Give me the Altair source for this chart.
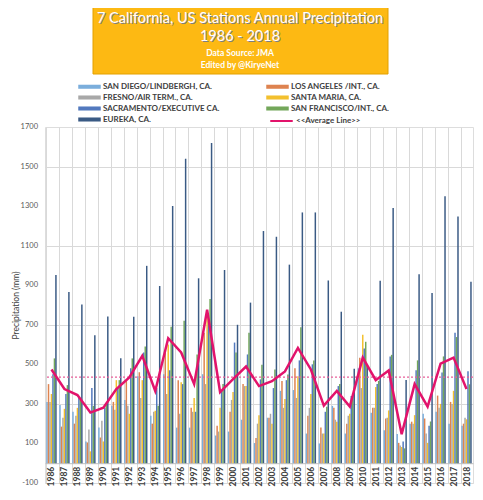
import altair as alt
import pandas as pd

YEARS = [str(y) for y in range(1986, 2019)]

STATIONS = ["SAN DIEGO/LINDBERGH, CA.", "LOS ANGELES /INT., CA.", "FRESNO/AIR TERM., CA.",
            "SANTA MARIA, CA.", "SACRAMENTO/EXECUTIVE CA.", "SAN FRANCISCO/INT., CA.", "EUREKA, CA."]
COLORS = ["#7BAEDC", "#DE8350", "#A8A8A8", "#F3C02E", "#5279BE", "#73A75A", "#3A5A84"]

SAN_DIEGO = [310, 295, 260, 110, 180, 290, 320, 440, 240, 450, 180, 180, 450, 140, 160, 220, 102,
             230, 366, 370, 150, 100, 290, 150, 480, 255, 167, 148, 200, 250, 260, 200, 190]
LOS_ANGELES = [400, 185, 200, 105, 130, 310, 420, 460, 200, 560, 420, 280, 660, 190, 260, 400, 127,
               230, 416, 480, 240, 180, 280, 200, 533, 280, 226, 103, 210, 226, 342, 310, 200]
FRESNO = [310, 230, 240, 170, 215, 270, 290, 330, 260, 350, 250, 260, 400, 160, 320, 390, 200,
          250, 280, 330, 280, 150, 220, 240, 380, 280, 230, 90, 200, 150, 280, 300, 230]
SANTA_MARIA = [350, 275, 280, 60, 110, 420, 250, 420, 265, 600, 410, 330, 760, 280, 360, 390, 243,
               200, 325, 440, 350, 150, 210, 250, 650, 385, 267, 82, 243, 103, 300, 366, 222]
SACRAMENTO = [450, 350, 330, 380, 280, 380, 480, 560, 380, 470, 400, 260, 720, 370, 610, 550, 424,
              380, 420, 520, 500, 260, 390, 340, 580, 400, 540, 110, 470, 190, 459, 660, 465]
SAN_FRANCISCO = [530, 395, 320, 290, 300, 420, 530, 590, 290, 690, 720, 550, 830, 400, 560, 660, 498,
                 474, 449, 688, 520, 286, 400, 340, 614, 416, 548, 75, 520, 211, 540, 638, 399]
EUREKA = [952, 866, 802, 647, 742, 531, 741, 998, 896, 1301, 1540, 935, 1619, 977, 700, 812, 1174,
          1145, 1004, 1268, 1268, 924, 766, 478, 500, 922, 1290, 421, 955, 861, 1350, 1247, 917]
AVERAGE = [474, 375, 345, 256, 281, 375, 434, 543, 365, 632, 560, 400, 776, 360, 425, 489, 390,
           415, 464, 583, 474, 291, 365, 286, 534, 420, 469, 147, 400, 286, 504, 534, 375]
OVERALL_AVERAGE = [435]
AVG_LABEL = "<<Average Line>>"

Y_LABELS = list(range(-100, 1701, 200))
Y_GRID = list(range(-100, 1701, 100))

TITLE_LINES = ["7 California, US Stations Annual Precipitation", "1986 - 2018",
               "Data Source: JMA", "Edited by @KiryeNet"]

FONT = "Lato"
GRID = "#D9D9D9"

series = [SAN_DIEGO, LOS_ANGELES, FRESNO, SANTA_MARIA, SACRAMENTO, SAN_FRANCISCO, EUREKA]
rows = []
for st, vals in zip(STATIONS, series):
    for yr, v in zip(YEARS, vals):
        rows.append({"year": yr, "station": st, "value": v})
bars_df = pd.DataFrame(rows)
avg_df = pd.DataFrame({"year": YEARS, "avg": AVERAGE, "series": [AVG_LABEL] * len(YEARS)})
overall_df = pd.DataFrame({"v": OVERALL_AVERAGE})
ylab_df = pd.DataFrame({"t": Y_LABELS, "lab": [str(v) for v in Y_LABELS]})
one = pd.DataFrame({"k": [0]})

y_scale = alt.Scale(domain=[-100, 1700], nice=False, zero=False)

x_enc = alt.X("year:N", sort=YEARS, title=None,
              scale=alt.Scale(paddingInner=0.2, paddingOuter=0.1),
              axis=alt.Axis(labelAngle=-90, labelFont=FONT, labelFontSize=8.5, labelFontWeight="bold",
                            labelColor="#404040", labelPadding=3, ticks=False, domain=True,
                            domainColor="#BFBFBF", grid=True, gridColor=GRID, bandPosition=0,
                            offset=-19.8, labelOverlap=False))
y_axis = alt.Axis(values=Y_GRID, labels=False, grid=True, gridColor=GRID, domain=False, ticks=False,
                  title="Precipitation (mm)", titleFont=FONT, titleFontSize=8.5,
                  titleFontWeight="normal", titleColor="#404040", titlePadding=25)

bars = alt.Chart(bars_df).mark_bar().encode(
    x=x_enc,
    xOffset=alt.XOffset("station:N", sort=STATIONS, scale=alt.Scale(domain=STATIONS, paddingInner=0)),
    y=alt.Y("value:Q", scale=y_scale, axis=y_axis),
    y2=alt.datum(0),
    color=alt.Color("station:N", scale=alt.Scale(domain=STATIONS, range=COLORS),
                    legend=alt.Legend(orient="none", legendX=40, legendY=-45, columns=2,
                                      direction="horizontal", title=None,
                                      symbolType="M-2.5,-0.45L2.5,-0.45L2.5,0.45L-2.5,0.45Z",
                                      symbolSize=81, symbolStrokeWidth=0, labelOffset=9,
                                      labelFont=FONT, labelFontSize=8, labelFontWeight="bold",
                                      labelColor="#404040", rowPadding=2, columnPadding=46,
                                      padding=0, labelLimit=300)),
)

ylabels = alt.Chart(ylab_df).mark_text(font=FONT, fontSize=7.5, color="#595959", align="right",
                                       baseline="middle").encode(
    x=alt.value(-7),
    y=alt.Y("t:Q", scale=y_scale),
    text=alt.Text("lab:N"),
)

overall = alt.Chart(overall_df).mark_rule(color="#E8609A", strokeWidth=1.3, strokeDash=[2, 2]).encode(
    y=alt.Y("v:Q", scale=y_scale)
)

line = alt.Chart(avg_df).mark_line(strokeWidth=2.5).encode(
    x=alt.X("year:N", sort=YEARS),
    y=alt.Y("avg:Q", scale=y_scale),
    stroke=alt.Stroke("series:N", scale=alt.Scale(domain=[AVG_LABEL], range=["#E2136B"]),
                      legend=alt.Legend(orient="none", legendX=231, legendY=-11.5, title=None,
                                        symbolType="M-2.5,0L2.5,0", symbolSize=81,
                                        symbolStrokeWidth=2, labelOffset=9, labelFont=FONT,
                                        labelFontSize=8, labelFontWeight="bold",
                                        labelColor="#404040", padding=0)),
)

box = alt.Chart(one).mark_rect(fill="#FDB913", stroke="#E3A000", strokeWidth=1).encode(
    x=alt.value(48), x2=alt.value(343), y=alt.value(-120), y2=alt.value(-53)
)

title_layers = []
specs = [(TITLE_LINES[0], -108, 14.5, "normal"), (TITLE_LINES[1], -90, 14.5, "normal"),
         (TITLE_LINES[2], -74, 8.5, "bold"), (TITLE_LINES[3], -62, 8.5, "bold")]
for txt, yy, fs, fw in specs:
    if fs > 10:
        title_layers.append(alt.Chart(one).mark_text(font=FONT, fontSize=fs, fontWeight=fw, color="#7F7F7F",
                                                     baseline="middle", align="center").encode(
            x=alt.value(196), y=alt.value(yy + 1), text=alt.value(txt)))
    title_layers.append(alt.Chart(one).mark_text(font=FONT, fontSize=fs, fontWeight=fw, color="#FFFFFF",
                                                 baseline="middle", align="center").encode(
        x=alt.value(195), y=alt.value(yy), text=alt.value(txt)))

chart = alt.layer(bars, ylabels, overall, line, box, *title_layers).properties(
    width=428, height=356,
    padding={"left": 37, "top": 119, "right": 2, "bottom": 9},
    autosize=alt.AutoSizeParams(type="none"),
).configure_view(stroke=None).configure(background="white")

chart.save("out.html", embed_options={"renderer": "svg", "actions": False})
